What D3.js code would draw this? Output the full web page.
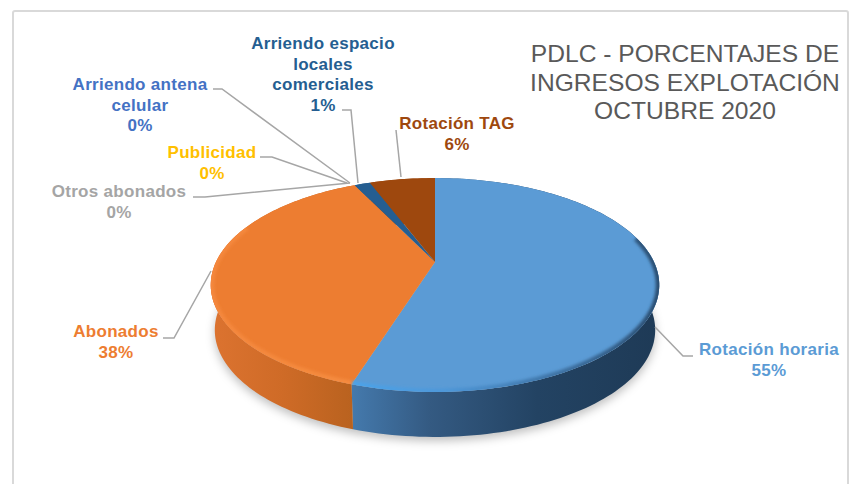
<!DOCTYPE html>
<html>
<head>
<meta charset="utf-8">
<script src="https://cdn.jsdelivr.net/npm/d3@7"></script>
<style>
  html, body { margin: 0; padding: 0; background: #fff; overflow: hidden; }
  text { font-family: "Liberation Sans", Arial, sans-serif; }
</style>
</head>
<body>
<svg></svg>
<script>
// chart data (labels show them rounded)
var categories = ["Rotación horaria", "Abonados", "Otros abonados", "Publicidad", "Arriendo antena celular", "Arriendo espacio locales comerciales", "Rotación TAG"];
var percents = [54.9, 37.9, 0, 0, 0, 1.4, 5.8];
var colours = ["#5B9BD5", "#ED7D31", "#A5A5A5", "#FFC000", "#4472C4", "#255E91", "#9E480E"];
var titleLines = ["PDLC - PORCENTAJES DE", "INGRESOS EXPLOTACIÓN", "OCTUBRE 2020"];

var width = 856;
var height = 484;

var svg = d3.select("svg")
    .attr("width", width)
    .attr("height", height)
    .style("display", "block");

// where each label goes and how its leader line runs
var labelLayout = {
    "Rotación horaria": { x: 769, y: 355, lines: ["Rotación horaria"], leader: [[693, 356], [683, 356], [655, 327]] },
    "Abonados": { x: 116, y: 337, lines: ["Abonados"], leader: [[163, 338], [174, 338], [211, 271]] },
    "Otros abonados": { x: 119, y: 197, lines: ["Otros abonados"], leader: [[193, 197], [205, 197], [350, 183]] },
    "Publicidad": { x: 212, y: 158, lines: ["Publicidad"], leader: [[260, 157], [272, 157], [347, 183]] },
    "Arriendo antena celular": { x: 140, y: 90, lines: ["Arriendo antena", "celular"], leader: [[213, 89], [222, 89], [350, 183]] },
    "Arriendo espacio locales comerciales": { x: 323, y: 49, lines: ["Arriendo espacio", "locales", "comerciales"], leader: [[342, 110], [351, 110], [358, 183]] },
    "Rotación TAG": { x: 457, y: 129, lines: ["Rotación TAG"], leader: [[396, 130], [401, 177]] }
};

// perspective disc: the circle of the pie is pushed through a projection
var disc = { cx: 435, cy: 262, a: 219, b: 102, p: 0.215, depth: 45, bottomScale: 0.982 };

var project = function(angle, bottom) {
    var X = Math.sin(angle);
    var Y = -Math.cos(angle);
    var k = 1 / (1 - disc.p * Y);
    var px = disc.a * X * k;
    var py = disc.b * Y * k;
    if (bottom) {
        return [disc.cx + px * disc.bottomScale, disc.cy + py + disc.depth];
    }
    return [disc.cx + px, disc.cy + py];
};

var arcPoints = function(a0, a1, bottom) {
    var steps = Math.max(2, Math.ceil((a1 - a0) * 40));
    return d3.range(steps + 1).map(function(i) {
        return project(a0 + (a1 - a0) * i / steps, bottom);
    });
};

var line = d3.line();

var pie = d3.pie().sort(null).value(function(d, i) { return percents[i]; });
var slices = pie(categories);

// defs
var defs = svg.append("defs");
defs.append("filter").attr("id", "shadowBlur")
    .attr("x", "-20%").attr("y", "-20%").attr("width", "140%").attr("height", "140%")
    .append("feGaussianBlur").attr("stdDeviation", 5);
defs.append("filter").attr("id", "rimBlur")
    .attr("x", "-10%").attr("y", "-10%").attr("width", "120%").attr("height", "120%")
    .append("feGaussianBlur").attr("stdDeviation", 1.8);

var addGradient = function(id, x1, x2, stops) {
    var g = defs.append("linearGradient").attr("id", id)
        .attr("gradientUnits", "userSpaceOnUse")
        .attr("x1", x1).attr("y1", 0).attr("x2", x2).attr("y2", 0);
    stops.forEach(function(s) {
        g.append("stop").attr("offset", s[0]).attr("stop-color", s[1]);
    });
};
addGradient("wall0", 353, 660, [[0, "#4479AC"], [0.25, "#345A82"], [0.6, "#234363"], [1, "#1E3A56"]]);
addGradient("wall1", 211, 353, [[0, "#DC7330"], [0.5, "#CF6B27"], [1, "#B9621F"]]);
addGradient("rim0", 353, 660, [[0, "#4BA3EA"], [0.3, "#4E97D8"], [0.65, "#3F74A6"], [1, "#2A4D70"]]);
addGradient("rim1", 211, 353, [[0, "#F4873C"], [1, "#F58B3F"]]);

defs.append("clipPath").attr("id", "topClip")
    .append("path")
    .attr("d", line(arcPoints(0, 2 * Math.PI, false)) + "Z");

// card
svg.append("rect")
    .attr("x", 13).attr("y", 11)
    .attr("width", 835).attr("height", 520)
    .attr("rx", 2)
    .attr("fill", "#fff")
    .attr("stroke", "#d9d9d9")
    .attr("stroke-width", 2);

// soft shadow below the disc
svg.append("path")
    .attr("d", line(arcPoints(0, 2 * Math.PI, true)) + "Z")
    .attr("transform", "translate(0,4)")
    .attr("fill", "#000")
    .attr("fill-opacity", 0.25)
    .attr("filter", "url(#shadowBlur)");

// side wall
svg.selectAll("path.wall")
    .data(slices.filter(function(d) { return d.value > 0; }))
    .enter()
    .append("path")
    .attr("class", "wall")
    .attr("d", function(d) {
        var top = arcPoints(d.startAngle, d.endAngle, false);
        var bot = arcPoints(d.startAngle, d.endAngle, true).reverse();
        return line(top.concat(bot)) + "Z";
    })
    .attr("fill", function(d) {
        return d.index < 2 ? "url(#wall" + d.index + ")" : colours[d.index];
    });

// top face
svg.selectAll("path.face")
    .data(slices.filter(function(d) { return d.value > 0; }))
    .enter()
    .append("path")
    .attr("class", "face")
    .attr("d", function(d) {
        return line([[disc.cx, disc.cy]].concat(arcPoints(d.startAngle, d.endAngle, false))) + "Z";
    })
    .attr("fill", function(d) { return colours[d.index]; });

// bevel along the rim of the two big slices
svg.append("g")
    .attr("clip-path", "url(#topClip)")
    .selectAll("path.rim")
    .data(slices.filter(function(d) { return d.index < 2; }))
    .enter()
    .append("path")
    .attr("class", "rim")
    .attr("d", function(d) {
        var a0 = d.index === 0 ? Math.PI * 0.42 : d.startAngle;
        var a1 = d.index === 0 ? d.endAngle : Math.PI * 1.62;
        return line(arcPoints(a0, a1, false));
    })
    .attr("fill", "none")
    .attr("stroke", function(d) { return "url(#rim" + d.index + ")"; })
    .attr("stroke-width", 7)
    .attr("filter", "url(#rimBlur)");

// leader lines
svg.selectAll("path.leader")
    .data(categories)
    .enter()
    .append("path")
    .attr("class", "leader")
    .attr("d", function(d) { return line(labelLayout[d].leader); })
    .attr("fill", "none")
    .attr("stroke", "#a6a6a6")
    .attr("stroke-width", 1.5);

// labels
var labels = svg.selectAll("text.label")
    .data(slices)
    .enter()
    .append("text")
    .attr("class", "label")
    .attr("text-anchor", "middle")
    .attr("font-size", 17)
    .attr("font-weight", "bold")
    .attr("letter-spacing", 0.3)
    .attr("fill", function(d) { return colours[d.index]; });

labels.each(function(d) {
    var layout = labelLayout[d.data];
    var rows = layout.lines.concat([Math.round(d.value) + "%"]);
    d3.select(this).selectAll("tspan")
        .data(rows)
        .enter()
        .append("tspan")
        .attr("x", layout.x)
        .attr("y", function(r, i) { return layout.y + i * 20.5; })
        .text(function(r) { return r; });
});

// title
svg.selectAll("text.title")
    .data(titleLines)
    .enter()
    .append("text")
    .attr("class", "title")
    .attr("x", 685)
    .attr("y", function(d, i) { return 62 + i * 28.7; })
    .attr("text-anchor", "middle")
    .attr("font-size", 24.6)
    .attr("fill", "#595959")
    .text(function(d) { return d; });
</script>
</body>
</html>
